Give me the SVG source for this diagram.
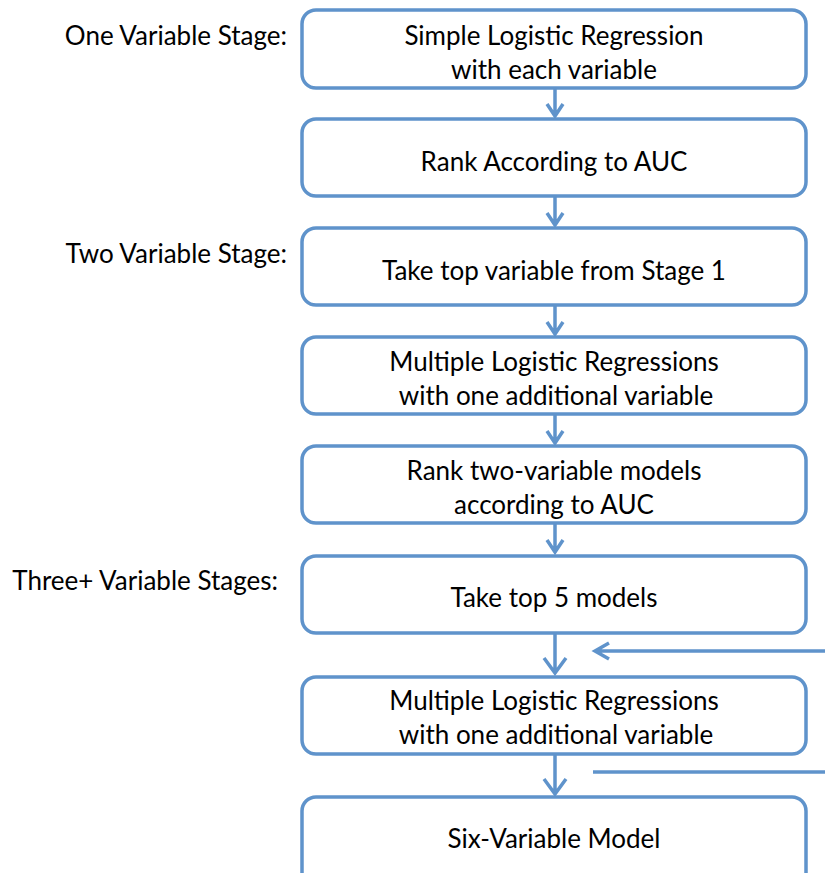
<svg xmlns="http://www.w3.org/2000/svg" width="825" height="873" viewBox="0 0 825 873">
<style>
.box{fill:#fff;stroke:#5f93cb;stroke-width:3.5}
.ln{fill:none;stroke:#5f93cb;stroke-width:3.5}
.t{font-family:Lato,"Open Sans",sans-serif;font-size:26px;fill:#000;text-anchor:middle}
.l{font-family:Lato,"Open Sans",sans-serif;font-size:26px;fill:#000;text-anchor:end}
</style>
<rect width="825" height="873" fill="#fff"/>
<g id="labels">
<text class="l" x="287" y="45">One Variable Stage:</text>
<text class="l" x="287" y="263">Two Variable Stage:</text>
<text class="l" x="278" y="590">Three+ Variable Stages:</text>
</g>
<g id="connectors">
<path class="ln" d="M555 88V116M547 104L555 116L563 104"/>
<path class="ln" d="M555 196V225M547 213L555 225L563 213"/>
<path class="ln" d="M555 305V334M547 322L555 334L563 322"/>
<path class="ln" d="M555 414V443M547 431L555 443L563 431"/>
<path class="ln" d="M555 523V552M547 540L555 552L563 540"/>
<path class="ln" d="M555 633V673M544 658L555 673L566 658"/>
<path class="ln" d="M555 754V794M544 779L555 794L566 779"/>
<path class="ln" d="M825 651H595M609 643L595 651L609 659"/>
<path class="ln" d="M593 772H825"/>
</g>
<g id="n1"><rect class="box" x="302" y="10" width="504" height="78" rx="14"/><text class="t" x="554" y="45">Simple Logistic Regression</text><text class="t" x="554" y="79">with each variable</text></g>
<g id="n2"><rect class="box" x="302" y="119" width="504" height="77" rx="14"/><text class="t" x="554" y="171">Rank According to AUC</text></g>
<g id="n3"><rect class="box" x="302" y="228" width="504" height="77" rx="14"/><text class="t" x="554" y="280">Take top variable from Stage 1</text></g>
<g id="n4"><rect class="box" x="302" y="337" width="504" height="77" rx="14"/><text class="t" x="554" y="371">Multiple Logistic Regressions</text><text class="t" x="556" y="405">with one additional variable</text></g>
<g id="n5"><rect class="box" x="302" y="446" width="504" height="77" rx="14"/><text class="t" x="554" y="480">Rank two-variable models</text><text class="t" x="554" y="514">according to AUC</text></g>
<g id="n6"><rect class="box" x="302" y="556" width="504" height="77" rx="14"/><text class="t" x="554" y="607">Take top 5 models</text></g>
<g id="n7"><rect class="box" x="302" y="677" width="504" height="77" rx="14"/><text class="t" x="554" y="710">Multiple Logistic Regressions</text><text class="t" x="556" y="744">with one additional variable</text></g>
<g id="n8"><rect class="box" x="302" y="797" width="504" height="90" rx="14"/><text class="t" x="554" y="848">Six-Variable Model</text></g>
</svg>
